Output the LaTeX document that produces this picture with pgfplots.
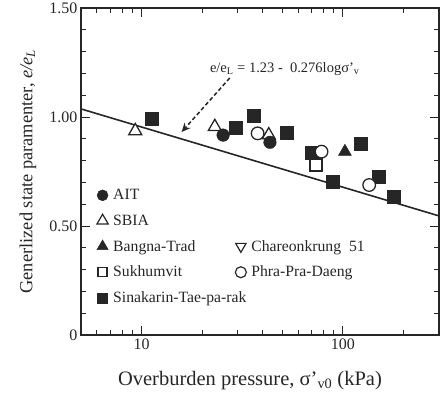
\documentclass[border=0pt]{standalone}
\usepackage{pgfplots}
\pgfplotsset{compat=1.18}
\usetikzlibrary{arrows.meta}
\usepackage{fontspec}
\setmainfont{Liberation Serif}
\begin{document}
\begin{tikzpicture}
\begin{axis}[
 scale only axis, width=358pt, height=327pt,
 xmode=log, xmin=5, xmax=300, ymin=0, ymax=1.5,
 xtick={10,100}, xticklabels={10,100},
 minor xtick={5,6,7,8,9,20,30,40,50,60,70,80,90,200,300},
 ytick={0,0.5,1,1.5}, yticklabels={0,0.50,1.00,1.50},
 minor ytick={0.1,0.2,0.3,0.4,0.6,0.7,0.8,0.9,1.1,1.2,1.3,1.4},
 major tick length=9pt, minor tick length=5pt,
 every tick/.style={black!85, line width=1pt},
 axis line style={black!85, line width=1.3pt},
 tick label style={font=\fontsize{16}{18}\selectfont, text=black!85},
 /pgf/number format/assume math mode=true,
 xlabel={Overburden pressure, σ'\textsubscript{v0} (kPa)},
 ylabel={Generlized state paramenter, \textit{e/e\textsubscript{L}}},
 xlabel style={font=\fontsize{20.5}{22}\selectfont, text=black!85, at={(axis description cs:0.472,-0.138)}, anchor=center},
 ylabel style={font=\fontsize{18.4}{20}\selectfont, text=black!85, at={(axis description cs:-0.148,0.5)}, anchor=center},
 legend columns=2,
 legend style={draw=none, fill=none, font=\fontsize{15.7}{18}\selectfont, text=black!85,
   at={(axis description cs:0.044,0.452)}, anchor=north west, inner sep=0pt, row sep=9.5pt,
   /tikz/every odd column/.append style={column sep=3pt},
   /tikz/every even column/.append style={column sep=-13pt}},
 legend cell align=left,
 legend image code/.code={\draw[mark repeat=1] plot coordinates {(0cm,0cm)};},
 clip=false,
]
\addlegendimage{only marks, mark=*, mark size=5.5pt, black!85}
\addlegendentry{AIT}
\addlegendimage{empty legend}\addlegendentry{}
\addlegendimage{only marks, mark=triangle*, mark size=6.5pt, black!85, line width=1.2pt, mark options={fill=white}}
\addlegendentry{SBIA}
\addlegendimage{empty legend}\addlegendentry{}
\addlegendimage{only marks, mark=triangle*, mark size=6.5pt, black!85}
\addlegendentry{Bangna-Trad}
\addlegendimage{only marks, mark=triangle*, mark size=6pt, black!85, line width=1.2pt, mark options={fill=white, rotate=180}}
\addlegendentry{Chareonkrung\ \ 51}
\addlegendimage{only marks, mark=square*, mark size=4.5pt, black!85, line width=1.2pt, mark options={fill=white}}
\addlegendentry{Sukhumvit}
\addlegendimage{only marks, mark=*, mark size=5.5pt, black!85, line width=1.2pt, mark options={fill=white}}
\addlegendentry{Phra-Pra-Daeng}
\addlegendimage{only marks, mark=square*, mark size=5pt, black!85}
\addlegendentry{Sinakarin-Tae-pa-rak}
\addlegendimage{empty legend}\addlegendentry{}

% fitted line e/eL = 1.23 - 0.276 log sigma
\addplot[forget plot, black!85, line width=1.6pt] coordinates {(5,1.0371) (300,0.5463)};

% Sinakarin-Tae-pa-rak
\addplot[forget plot, only marks, mark=square*, mark size=6.5pt, black!85] coordinates {
(11.2,0.994) (29.4,0.951) (36.2,1.006) (52.5,0.930) (70.3,0.838) (89.4,0.703) (123,0.876) (150,0.726) (178,0.634)};
% SBIA
\addplot[forget plot, only marks, mark=triangle*, mark size=7.5pt, black!85, line width=1.3pt, mark options={fill=white}] coordinates {
(9.3,0.936) (23.1,0.955) (42.8,0.917)};
% AIT
\addplot[forget plot, only marks, mark=*, mark size=6.3pt, black!85] coordinates {
(25.4,0.917) (43.4,0.884)};
% Phra-Pra-Daeng
\addplot[forget plot, only marks, mark=*, mark size=6.3pt, black!85, line width=1.3pt, mark options={fill=white}] coordinates {
(37.7,0.925) (78.3,0.841) (135,0.688)};
% Sukhumvit
\addplot[forget plot, only marks, mark=square*, mark size=6pt, black!85, line width=1.3pt, mark options={fill=white}] coordinates {
(73.4,0.780)};
% Bangna-Trad
\addplot[forget plot, only marks, mark=triangle*, mark size=7.5pt, black!85] coordinates {
(102.3,0.841)};

\draw[-{Stealth[length=9pt,width=8pt]}, black!85, line width=1.5pt, dash pattern=on 4pt off 2.5pt]
  (axis cs:27.4,1.179) -- (axis cs:15.8,0.931);
\node[font=\fontsize{14.5}{17}\selectfont, text=black!85] at (axis cs:51.4,1.22)
  {e/e\textsubscript{L} = 1.23 -\ \ 0.276logσ'\textsubscript{v}};
\end{axis}
\pgfresetboundingbox
\path ([shift={(-81pt,-62pt)}]current axis.south west) rectangle ([shift={(5pt,8pt)}]current axis.north east);
\end{tikzpicture}
\end{document}
